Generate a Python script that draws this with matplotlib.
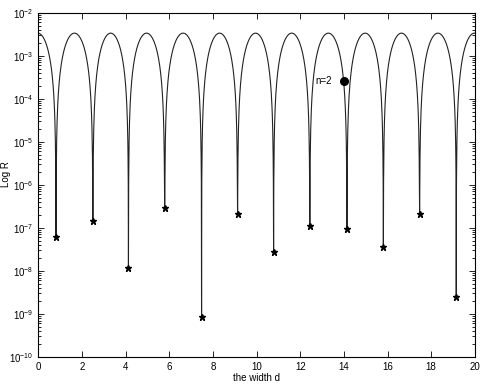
import numpy as np
import matplotlib
matplotlib.use("Agg")
import matplotlib.pyplot as plt
from matplotlib.ticker import LogLocator, NullFormatter, FixedLocator

plt.rcParams['font.family'] = ['Liberation Sans', 'DejaVu Sans']

# minima of the reflectance (marked with stars)
dip_d = [0.81, 2.50, 4.13, 5.79, 7.48, 9.13, 10.78, 12.44, 14.14, 15.81, 17.47, 19.15]
dip_R = [6.0e-8, 1.45e-7, 1.17e-8, 2.9e-7, 8.5e-10, 2.1e-7, 2.8e-8, 1.1e-7, 9.5e-8, 3.5e-8, 2.1e-7, 2.5e-9]
peak_R = 3.35e-3
d_range = [0, 20]

# highlighted point
pt_d = [14.0]
pt_R = [2.6e-4]
pt_label = "n=2"

x_ticks = [0, 2, 4, 6, 8, 10, 12, 14, 16, 18, 20]
y_ticks = [1e-10, 1e-9, 1e-8, 1e-7, 1e-6, 1e-5, 1e-4, 1e-3, 1e-2]

# Build the reflectance curve lobe by lobe between the minima
half = (dip_d[-1] - dip_d[0]) / (len(dip_d) - 1)
edges = [dip_d[0] - half] + list(dip_d) + [dip_d[-1] + half]
xs, ys = [], []
for i in range(len(edges) - 1):
    a, b = edges[i], edges[i + 1]
    t = np.linspace(0, 1, 170)[1:-1]
    xx = a + (b - a) * t
    yy = peak_R * np.sin(np.pi * t) ** 2
    keep = (xx >= d_range[0]) & (xx <= d_range[1])
    xs.extend(xx[keep]); ys.extend(yy[keep])
    if i < len(dip_d):
        xs.append(dip_d[i]); ys.append(dip_R[i])
order = np.argsort(xs)
xs = np.array(xs)[order]; ys = np.array(ys)[order]

fig = plt.figure(figsize=(4.85, 3.85), dpi=100)
ax = fig.add_axes([0.079, 0.073, 0.900, 0.894])
ax.plot(xs, ys, color='#222222', lw=0.8)
ax.plot(dip_d, dip_R, linestyle='none', marker='*', color='black', markersize=4.5)
ax.plot(pt_d, pt_R, linestyle='none', marker='o', color='black', markersize=5.5)
ax.text(pt_d[0] - 0.55, pt_R[0], pt_label, ha='right', va='center', fontsize=7)

ax.set_yscale('log')
ax.set_xlim(d_range)
ax.set_ylim(1e-10, 1e-2)
ax.xaxis.set_major_locator(FixedLocator(x_ticks))
ax.yaxis.set_major_locator(FixedLocator(y_ticks))
ax.yaxis.set_minor_locator(LogLocator(base=10, subs=np.arange(2, 10), numticks=20))
ax.yaxis.set_minor_formatter(NullFormatter())
ax.tick_params(which='both', direction='in', top=True, right=True, labelsize=7, width=0.6)
ax.tick_params(which='major', length=4)
ax.tick_params(which='minor', length=2)
for s in ax.spines.values():
    s.set_linewidth(0.8)
ax.set_xlabel('the width d', fontsize=7, labelpad=1)
ax.set_ylabel('Log R', fontsize=7)
ax.yaxis.set_label_coords(-0.062, 0.53)

fig.savefig('out.png', dpi=100)
